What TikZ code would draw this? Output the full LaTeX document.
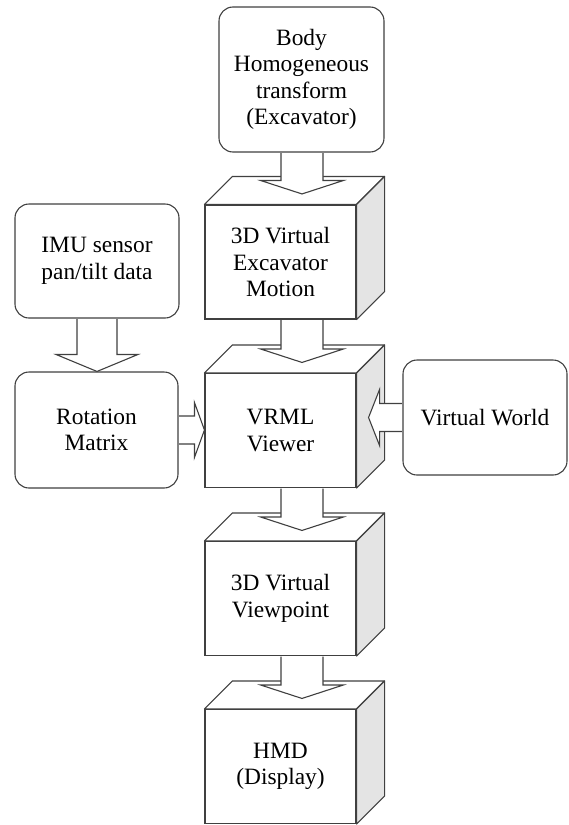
\documentclass[tikz,border=0pt]{standalone}
\usepackage{fontspec}
\setmainfont{Liberation Serif}
\usetikzlibrary{calc}

\definecolor{linegray}{HTML}{404040}
\definecolor{sidegray}{HTML}{E4E4E4}
\newcommand\labelfont{\fontsize{23.4}{26.5}\selectfont}

\tikzset{
  outline/.style={draw=linegray, line width=1.1pt},
  roundbox/.style={outline, fill=white, rounded corners=14pt, align=center,
                   inner sep=0pt, font=\labelfont},
  frontface/.style={outline, fill=white, align=center, inner sep=0pt,
                    minimum width=151pt, minimum height=114pt, font=\labelfont},
  face/.style={outline, line join=round},
  blockarrow/.style={outline, fill=white, line join=miter},
}

% top and right faces of a box whose front face is node #1
\newcommand\cubefaces[1]{%
  \draw[face, fill=white] (#1.north west) -- ++(28pt,28pt)
    -- ($(#1.north east)+(28pt,28pt)$) -- (#1.north east) -- cycle;
  \draw[face, fill=sidegray] (#1.north east) -- ++(28pt,28pt)
    -- ($(#1.south east)+(28pt,28pt)$) -- (#1.south east) -- cycle;}

% downward block arrow from node #1 to node #2, shifted #3 from #1's centre
\newcommand\downblock[3]{%
  \draw[blockarrow] let \p1=(#1.south), \p2=(#2.north) in
    (\x1+#3-21pt,\y1-0.6pt) -- (\x1+#3-21pt,\y2+24pt) -- (\x1+#3-41.5pt,\y2+24pt)
    -- (\x1+#3,\y2+10.5pt) -- (\x1+#3+41.5pt,\y2+24pt) -- (\x1+#3+21pt,\y2+24pt)
    -- (\x1+#3+21pt,\y1-0.6pt);}

\begin{document}
\begin{tikzpicture}[x=1pt,y=-1pt]
\useasboundingbox (0,0) rectangle (568,825);

% plain boxes
\node[roundbox, minimum width=165pt, minimum height=145pt] (body) at (301.5,79.5)
  {Body\\Homogeneous\\transform\\(Excavator)};
\node[roundbox, minimum width=164pt, minimum height=114pt] (imu) at (97,261)
  {IMU sensor\\pan/tilt data};
\node[roundbox, minimum width=163pt, minimum height=116pt] (rot) at (96.5,430)
  {Rotation\\Matrix};
\node[roundbox, minimum width=164pt, minimum height=115pt] (world) at (485,417.5)
  {Virtual World};

% 3D boxes
\node[frontface] (motion) at (280.5,262) {3D Virtual\\Excavator\\Motion};
\cubefaces{motion}
\node[frontface] (vrml) at (280.5,430.5) {VRML\\Viewer};
\cubefaces{vrml}
\node[frontface] (viewpoint) at (280.5,598.5) {3D Virtual\\Viewpoint};
\cubefaces{viewpoint}
\node[frontface] (hmd) at (280.5,766.5) {HMD\\(Display)};
\cubefaces{hmd}

% vertical block arrows
\downblock{body}{motion}{0.5pt}
\downblock{motion}{vrml}{21.5pt}
\downblock{vrml}{viewpoint}{21.5pt}
\downblock{viewpoint}{hmd}{21.5pt}
\draw[blockarrow] let \p1=(imu.south), \p2=(rot.north) in
  (\x1-20pt,\y1-0.6pt) -- (\x1-20pt,\y2+17pt) -- (\x1-41pt,\y2+17pt)
  -- (\x1,\y2) -- (\x1+41pt,\y2+17pt) -- (\x1+20pt,\y2+17pt) -- (\x1+20pt,\y1-0.6pt);

% horizontal block arrows
\draw[blockarrow] let \p1=(rot.east), \p2=(vrml.west) in
  (\x1+0.6pt,\y1+14pt) -- (\x2-10pt,\y1+14pt) -- (\x2-10pt,\y1+27.5pt)
  -- (\x2,\y1) -- (\x2-10pt,\y1-27.5pt) -- (\x2-10pt,\y1-14pt) -- (\x1+0.6pt,\y1-14pt);
\draw[blockarrow] let \p1=(world.west), \p2=(vrml.east) in
  (\x1-0.6pt,\y1+14pt) -- (\x2+23pt,\y1+14pt) -- (\x2+23pt,\y1+28pt)
  -- (\x2+12pt,\y1) -- (\x2+23pt,\y1-28pt) -- (\x2+23pt,\y1-14pt) -- (\x1-0.6pt,\y1-14pt);
\end{tikzpicture}
\end{document}
